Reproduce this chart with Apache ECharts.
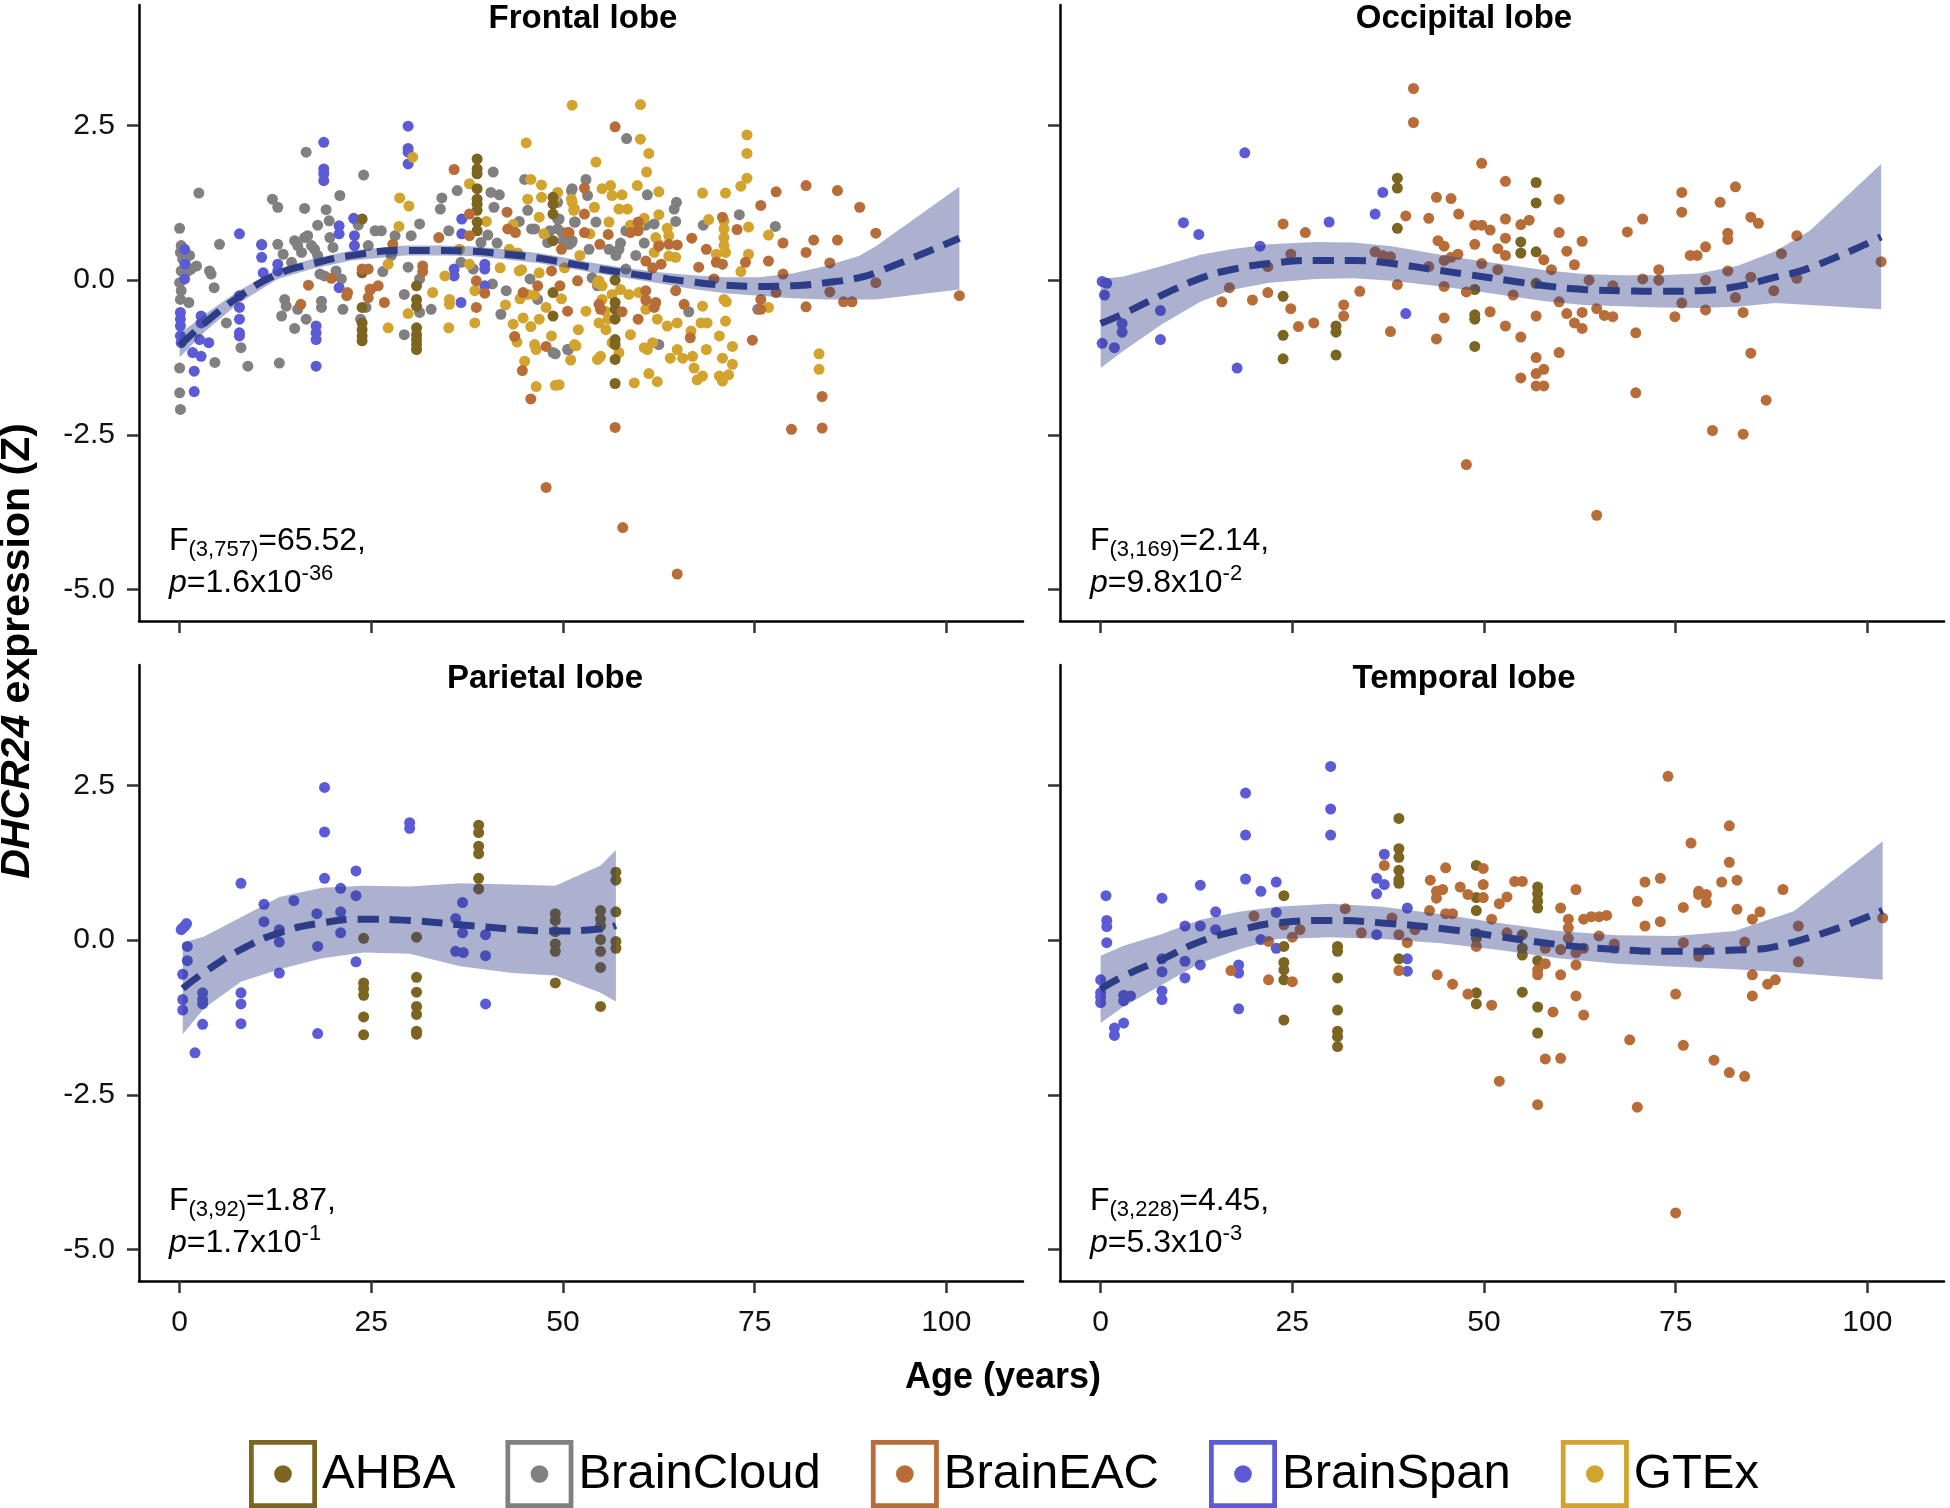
<!DOCTYPE html>
<html><head><meta charset="utf-8">
<script src="https://cdn.jsdelivr.net/npm/echarts@6.0.0/dist/echarts.min.js"></script>
<style>html,body{margin:0;padding:0;background:#fff;}#chart{width:1950px;height:1508px;}</style>
</head><body><div id="chart"></div>
<script>
// ---------- categories / ticks ----------
const datasets = ['AHBA', 'BrainCloud', 'BrainEAC', 'BrainSpan', 'GTEx'];
const panelTitles = ['Frontal lobe', 'Occipital lobe', 'Parietal lobe', 'Temporal lobe'];
const xTicks = [0, 25, 50, 75, 100];
const yTicks = [-5, -2.5, 0, 2.5];
const statDf = ['(3,757)', '(3,169)', '(3,92)', '(3,228)'];
const statF = ['=65.52,', '=2.14,', '=1.87,', '=4.45,'];
const statPBase = ['=1.6x10', '=9.8x10', '=1.7x10', '=5.3x10'];
const statPExp = ['-36', '-2', '-1', '-3'];

// ---------- Frontal lobe ----------
const frontalBrainCloud = [[2.5,1.41],[0,0.84],[0.2,0.56],[0.1,0.45],[0.4,0.34],[0.7,0.29],[0.2,0.15],[1.3,0.40],[1.5,0.18],[1.1,0.15],[0,-0.04],[0.2,-0.17],[0.1,-0.31],[1.2,-0.36],[0,-1.42],[0,-1.82],[0.1,-2.09],[2.2,0.23],[5.2,0.58],[3.9,0.15],[4.1,0.1],[4.5,-0.12],[6.1,-0.69],[4.6,-1.33],[8.0,-1.09],[8.9,-1.39],[12.1,1.31],[12.8,1.18],[10.7,0.58],[12.8,0.58],[13.5,0.42],[14.6,0.29],[15.0,0.64],[15.4,0.56],[15.9,0.45],[16.3,0.69],[16.7,0.72],[17.2,0.56],[17.6,0.5],[18.0,0.4],[16.3,1.16],[16.5,2.07],[19.1,1.14],[19.5,0.96],[18.0,0.89],[20.9,1.37],[24.0,1.7],[13.7,-0.31],[13.9,-0.42],[13.3,-0.58],[15.0,-0.78],[15.4,-0.47],[16.5,-0.63],[18.5,-0.34],[18.5,-0.44],[18.3,0.10],[18.9,0.07],[20.4,0.15],[21.1,0.02],[21.3,-0.47],[13.0,-1.34],[20.0,0.53],[19.6,0.69],[23.3,0.89],[23.1,0.96],[23.6,-0.63],[24.3,-0.44],[24.6,0.56],[25.5,0.8],[26.3,0.8],[26.5,0.14],[27.6,0.4],[28.1,0.72],[29.3,-0.88],[29.3,-0.23],[29.8,0.21],[30.2,0.72],[31.3,0.91],[31.3,0.02],[31.3,-0.52],[32.8,-0.47],[34.0,1.15],[34.2,1.33],[36.2,1.45],[35.1,0.80],[36.7,0.29],[38.3,0.18],[39.3,0.61],[40.2,0.73],[40.9,1.75],[40.6,1.42],[41.7,1.38],[41.0,1.18],[41.4,0.60],[40.8,-0.06],[42.6,-0.17],[41.9,-0.55],[44.3,0.95],[45.0,1.63],[45.4,1.13],[45.9,0.83],[46.3,0.83],[45.7,0.02],[46.7,-0.31],[48.7,-1.17],[50.7,-1.12],[49.3,1.26],[49.3,0.99],[51.1,1.45],[51.1,0.61],[51.5,0.94],[49.3,0.83],[48.3,0.8],[48.0,0.61],[50.0,0.64],[53.0,1.63],[58.3,2.29],[51.2,1.48],[53.2,1.37],[61.0,1.38],[64.8,1.26],[64.5,1.15],[64.7,0.95],[73.0,1.06],[68.3,0.89],[77.7,0.87],[49.5,0.99],[51.6,0.94],[49.9,0.77],[54.3,0.94],[58.2,0.8],[57.5,0.6],[57.3,0.5],[56.9,0.4],[60.8,0.89],[61.9,0.91],[60.6,0.6],[51.2,0.64],[50.8,0.58],[53.4,0.5],[53.8,0.04],[66.4,-0.51],[62.5,-1.04],[50.6,-1.12],[75.4,-0.47],[58.2,0.18],[59.5,0.4],[56.0,0.5],[54.5,-0.09],[49.0,-1.19]];
const frontalBrainSpan = [[0.1,-0.52],[0.1,-0.63],[0.1,-0.74],[0.1,-0.90],[0.2,-1.01],[0.65,0.5],[0.7,0.26],[0.65,0.02],[1.7,-1.17],[1.9,-1.47],[1.9,-1.8],[2.8,-0.58],[2.8,-0.69],[2.6,-0.96],[3.8,-1.01],[2.8,-1.23],[7.8,0.75],[7.8,-0.25],[7.8,-0.44],[7.8,-0.63],[7.8,-0.85],[7.8,-0.9],[10.7,0.57],[10.7,0.37],[10.9,0.12],[12.8,0.26],[12.8,0.15],[18.8,2.23],[18.8,1.8],[18.8,1.72],[18.8,1.61],[17.8,-0.74],[17.8,-0.85],[17.8,-0.96],[17.8,-1.39],[20.8,0.88],[20.8,0.75],[20.8,-0.12],[22.7,1.0],[22.8,0.72],[22.8,0.56],[29.8,2.49],[29.8,2.13],[29.8,2.07],[29.8,1.88],[36.8,0.99],[36.8,0.75],[35.8,0.18],[35.8,0.07],[36.7,-0.36],[39.8,0.26],[39.8,0.18],[39.8,-0.09]];
const frontalAHBA = [[23.8,0.99],[23.8,0.12],[23.8,-0.44],[23.8,-0.69],[23.8,-0.8],[23.8,-0.9],[23.8,-0.98],[30.9,-0.09],[30.9,-0.31],[30.9,-0.42],[30.9,-0.77],[30.9,-0.88],[30.9,-0.96],[30.9,-1.04],[30.9,-1.12],[38.8,1.96],[38.8,1.8],[38.8,1.72],[38.8,1.48],[38.8,1.31],[38.8,1.23],[38.8,1.13],[38.8,0.94],[38.8,0.8],[48.7,1.34],[48.7,1.23],[48.7,1.07],[48.7,0.64],[48.7,-0.2],[48.7,-0.58],[56.8,0.0],[56.8,-0.36],[56.8,-0.47],[56.8,-0.63],[56.8,-0.96],[56.8,-1.04],[56.8,-1.28],[56.8,-1.67]];
const frontalBrainEAC = [[35.8,1.79],[37.8,1.07],[37.8,0.72],[42.7,1.10],[42.8,0.83],[43.8,0.77],[33.8,0.69],[31.7,0.23],[31.7,0.14],[27.8,0.58],[26.7,-0.36],[25.9,-0.09],[24.9,-0.15],[24.6,-0.28],[23.8,0.18],[24.6,0.18],[21.9,-0.20],[21.8,-0.25],[19.8,0.03],[16.8,-0.08],[15.8,-0.39],[38.7,-0.01],[39.8,-0.21],[38.7,-0.44],[43.7,-0.91],[44.7,-1.46],[45.8,-1.92],[47.8,-1.07],[44.8,-0.2],[46.7,-0.09],[49.6,-0.09],[50.6,-0.5],[50.6,0.77],[49.8,0.5],[48.5,0.15],[56.8,2.48],[56.8,-2.38],[79.8,-2.41],[83.8,-2.39],[83.8,-1.88],[77.8,1.43],[81.7,1.53],[85.8,1.45],[88.7,1.18],[75.8,1.21],[90.8,0.76],[82.7,0.65],[85.8,0.65],[81.7,0.45],[84.8,0.28],[78.7,0.6],[76.8,0.31],[78.7,0.1],[90.8,-0.04],[84.8,-0.19],[86.6,-0.35],[87.7,-0.35],[81.7,-0.43],[75.8,-0.31],[75.8,-0.47],[77.8,-0.2],[101.7,-0.25],[74.7,-0.97],[66.8,0.68],[70.8,1.02],[68.7,0.5],[72.7,0.82],[70.0,0.29],[70.8,0.26],[73.8,0.29],[67.7,0.21],[69.7,0.02],[64.7,-0.17],[65.8,-0.39],[62.1,-0.36],[61.9,-0.44],[66.6,-0.93],[59.8,-0.63],[57.7,-0.51],[54.9,-0.47],[54.7,-0.39],[59.8,0.94],[59.8,0.8],[58.8,0.77],[52.8,1.07],[52.8,0.77],[52.8,1.49],[50.8,0.77],[51.9,-0.01],[54.8,0.58],[55.9,0.74],[60.8,0.31],[62.5,0.55],[63.8,0.58],[64.9,0.57],[60.8,-0.17],[60.8,-0.32],[61.7,0.2],[62.8,0.26],[47.8,-3.35],[57.8,-4.0],[64.9,-4.75]];
const frontalGTEx = [[51.2,2.83],[45.2,2.22],[30.4,1.99],[28.7,1.33],[29.9,1.2],[28.6,0.87],[27.2,0.26],[24.8,-0.14],[27.2,-0.77],[29.8,-0.54],[34.6,0.07],[35.2,-0.31],[35.2,-0.39],[35.1,-0.77],[37.8,1.56],[37.8,0.26],[38.5,-0.17],[38.5,-0.69],[45.8,1.63],[47.2,1.54],[47.2,1.34],[45.4,1.31],[46.9,1.02],[44.3,0.15],[44.4,-0.3],[45.4,-0.23],[46.9,0.12],[46.3,-0.24],[47.8,-0.44],[44.8,-0.61],[43.5,-0.71],[45.8,-0.75],[46.9,-0.63],[46.3,-1.04],[46.5,-1.12],[45.0,-1.31],[49.0,-1.7],[51.0,-1.29],[49.3,1.42],[48.9,1.31],[51.1,1.31],[51.5,1.15],[51.5,-1.04],[60.1,2.84],[60.1,2.28],[61.2,2.05],[60.9,1.75],[74.0,2.35],[74.0,2.05],[74.0,1.65],[73.2,1.52],[54.3,1.91],[59.7,1.53],[62.5,1.43],[68.2,1.41],[71.2,1.41],[55.1,1.48],[56.2,1.53],[57.7,1.38],[56.4,1.37],[54.1,1.18],[57.3,1.15],[58.4,1.15],[51.2,1.26],[51.4,1.13],[62.5,1.06],[56.0,0.94],[58.8,0.89],[60.6,1.0],[59.9,0.88],[63.6,0.84],[63.8,0.72],[62.1,0.69],[62.5,0.58],[61.9,0.45],[63.8,0.39],[64.7,0.37],[69.0,0.98],[71.0,0.96],[71.0,0.83],[71.0,0.69],[71.0,0.56],[71.2,0.45],[70.0,0.42],[74.2,0.86],[74.2,0.42],[73.2,0.14],[76.8,0.73],[76.8,-0.44],[54.7,-0.01],[54.5,-0.04],[55.1,-0.09],[56.4,-0.23],[57.5,-0.15],[58.6,-0.23],[59.9,-0.2],[55.1,-0.31],[55.5,-0.5],[55.9,-0.63],[60.8,-0.47],[62.3,-0.63],[63.6,-0.74],[64.9,-0.69],[68.2,-0.42],[68.0,-0.69],[68.8,-0.69],[71.2,-0.66],[58.8,-0.88],[60.6,-1.09],[61.7,-1.01],[61.0,-1.12],[54.7,-0.69],[56.4,-1.01],[57.3,-1.17],[54.9,-1.23],[54.5,-1.28],[51.7,-1.06],[55.6,-0.8],[64.0,-1.26],[64.9,-1.12],[65.6,-1.26],[66.9,-1.23],[67.1,-1.42],[68.2,-1.55],[67.5,-1.61],[68.7,-1.12],[66.7,-0.82],[70.4,-0.9],[70.4,-1.55],[70.8,-1.63],[71.6,-1.53],[70.8,-1.26],[72.1,-1.07],[72.1,-1.36],[59.3,-1.66],[61.2,-1.51],[62.3,-1.64],[83.4,-1.19],[83.4,-1.44],[49.5,-1.69],[71.3,-0.35],[71.0,-0.31],[43.0,0.5],[43.5,0.9],[42.5,-0.4],[41.8,0.2],[44.0,-1.0],[47.5,0.75],[48.5,-0.9],[49.8,-0.3],[50.2,0.2],[52.2,0.4],[53.0,-0.5],[53.5,0.75],[52.0,-0.8],[36.5,0.5],[40.0,0.95],[33.0,-0.2],[44.1,0.44],[44.6,0.17],[46.5,-1.72]];
const frontalFitAge = [0, 3.3, 7.6, 12.8, 17.2, 22.4, 29.3, 33.7, 38, 42.4, 46.7, 50, 54, 58, 62.5, 66.9, 71.2, 75.6, 79.9, 84.3, 88.6, 90.8, 101.7];
const frontalFit   = [-1.06,-0.69,-0.28,0.10,0.26,0.40,0.48,0.48,0.47,0.42,0.36,0.29,0.20,0.12,0.04,-0.03,-0.08,-0.10,-0.09,-0.04,0.04,0.12,0.68];
const frontalLower = [-1.25,-0.83,-0.38,0.02,0.18,0.32,0.40,0.40,0.39,0.34,0.28,0.21,0.12,0.04,-0.05,-0.14,-0.21,-0.25,-0.29,-0.31,-0.31,-0.31,-0.15];
const frontalUpper = [-0.87,-0.55,-0.18,0.18,0.34,0.48,0.56,0.56,0.55,0.50,0.44,0.37,0.28,0.20,0.13,0.08,0.05,0.05,0.11,0.23,0.39,0.55,1.51];

// ---------- Occipital lobe ----------
const occipitalBrainSpan = [[0.2,-0.02],[0.8,-0.05],[0.5,-0.24],[2.8,-0.70],[2.8,-0.84],[0.2,-1.02],[1.8,-1.09],[7.8,-0.49],[7.8,-0.96],[10.8,0.93],[12.8,0.74],[17.8,-1.42],[18.8,2.06],[20.8,0.55],[29.8,0.94],[35.8,1.07],[36.8,1.42],[39.8,-0.54]];
const occipitalAHBA = [[23.8,-0.26],[23.8,-0.89],[23.8,-1.27],[30.7,-0.74],[30.7,-0.84],[30.7,-1.21],[38.7,1.65],[38.7,1.49],[38.7,0.84],[48.8,-0.15],[48.8,-0.56],[48.8,-0.63],[48.8,-1.07],[56.8,1.58],[56.8,1.25],[54.8,0.62],[56.8,0.46],[54.8,0.44],[56.8,-0.05]];
const occipitalBrainEAC = [[40.8,3.1],[40.8,2.55],[49.7,1.89],[52.8,1.6],[59.8,1.31],[43.8,1.34],[45.7,1.32],[39.8,1.04],[42.8,1.0],[46.7,1.07],[48.8,0.89],[49.7,0.89],[50.8,0.81],[52.8,0.99],[54.8,0.9],[55.9,0.97],[23.8,0.91],[26.7,0.77],[24.8,0.42],[21.8,0.22],[16.8,-0.12],[15.8,-0.35],[19.8,-0.32],[21.8,-0.2],[24.8,-0.46],[25.8,-0.75],[27.8,-0.69],[31.7,-0.4],[31.7,-0.58],[33.8,-0.18],[35.8,0.46],[37.8,0.38],[36.8,0.4],[37.8,-0.83],[38.7,-0.07],[44.0,0.64],[44.8,0.55],[45.7,0.37],[46.6,0.42],[44.8,0.32],[42.8,0.22],[44.8,-0.1],[44.8,-0.61],[43.8,-0.95],[47.7,-0.19],[48.8,0.58],[49.7,0.27],[50.8,-0.51],[51.8,0.51],[51.8,0.17],[52.8,0.68],[52.8,0.4],[52.8,-0.74],[53.8,-0.24],[54.8,-0.92],[54.8,-1.58],[56.8,-0.58],[56.8,-1.25],[56.8,-1.51],[57.8,-1.44],[56.8,-1.71],[57.8,-1.71],[57.8,0.33],[58.8,0.17],[59.8,0.77],[59.8,-0.35],[59.8,-1.17],[60.8,0.47],[60.8,-0.54],[61.8,0.25],[61.8,-0.69],[62.8,0.63],[62.8,-0.52],[62.8,-0.78],[63.7,0.0],[64.7,-0.46],[64.7,-3.8],[65.7,-0.57],[66.8,-0.59],[66.8,-0.09],[47.7,-2.98],[68.7,0.78],[69.8,-0.85],[69.8,-1.82],[70.7,0.99],[70.7,0.02],[72.8,0.17],[72.8,0.0],[74.9,-0.59],[75.8,1.42],[75.8,1.1],[75.8,-0.37],[76.9,0.4],[77.8,0.4],[78.9,0.54],[78.9,0.0],[78.9,-0.48],[79.8,-2.43],[80.8,1.26],[81.8,0.76],[81.8,0.66],[81.8,0.15],[82.8,1.51],[82.8,-0.28],[83.8,-0.52],[83.8,-2.49],[84.8,1.02],[85.8,0.92],[84.8,0.05],[84.8,-1.18],[86.8,-1.94],[87.8,-0.17],[88.8,0.43],[90.8,0.72],[90.8,0.03],[101.8,0.3]];
const occipitalFitAge = [0, 3, 8, 13, 17, 22, 28, 33, 38, 43, 48, 53, 58, 63, 68, 73, 78, 83, 88, 92.5, 101.8];
const occipitalFit   = [-0.70,-0.54,-0.24,0.03,0.17,0.27,0.32,0.32,0.27,0.18,0.09,0.0,-0.09,-0.15,-0.17,-0.18,-0.17,-0.10,0.05,0.20,0.70];
const occipitalLower = [-1.42,-1.14,-0.71,-0.35,-0.16,-0.04,0.02,0.03,-0.01,-0.08,-0.16,-0.25,-0.34,-0.40,-0.42,-0.44,-0.45,-0.43,-0.37,-0.40,-0.47];
const occipitalUpper = [0.02,0.06,0.23,0.41,0.50,0.58,0.62,0.61,0.55,0.44,0.34,0.25,0.16,0.10,0.08,0.08,0.11,0.23,0.47,0.80,1.88];

// ---------- Parietal lobe ----------
const parietalBrainSpan = [[0.2,0.17],[0.7,0.23],[0.9,0.27],[0.4,0.2],[1.0,-0.1],[1.0,-0.33],[0.4,-0.55],[0.4,-0.96],[0.4,-1.13],[2.0,-1.82],[3.0,-0.85],[3.0,-0.96],[3.0,-1.03],[3.0,-1.36],[8.0,0.92],[8.0,-0.85],[8.0,-1.03],[8.0,-1.35],[11.0,0.58],[11.0,0.3],[13.0,0.17],[13.0,-0.03],[13.0,-0.53],[14.9,0.64],[17.9,0.43],[18.0,-0.1],[18.0,-1.51],[18.9,2.47],[18.9,1.75],[18.9,1.0],[21.0,0.84],[21.0,0.46],[21.0,0.12],[23.0,1.12],[23.0,0.72],[23.0,-0.35],[30.0,1.9],[30.0,1.81],[36.0,0.35],[36.0,-0.18],[37.0,-0.2],[36.9,0.61],[36.9,0.12],[39.9,0.09],[39.9,-0.25],[39.9,-1.03]];
const parietalAHBA = [[24.0,0.03],[24.0,-0.69],[24.0,-0.78],[24.0,-0.89],[24.0,-1.24],[24.0,-1.53],[30.9,0.05],[30.9,-0.6],[30.9,-0.84],[30.9,-1.07],[30.9,-1.2],[30.9,-1.47],[30.9,-1.52],[39.0,1.86],[39.0,1.74],[39.0,1.52],[39.0,1.4],[39.0,1.0],[39.0,0.83],[49.0,0.43],[49.0,0.32],[49.0,0.14],[49.0,-0.06],[49.0,-0.18],[49.0,-0.69],[54.9,0.48],[54.9,0.34],[54.9,0.23],[54.9,0.01],[54.9,-0.18],[54.9,-0.44],[54.9,-1.07],[56.9,1.1],[56.9,0.97],[56.9,0.46],[56.9,-0.02],[56.9,-0.13]];
const parietalFitAge = [0.4, 3.2, 8, 13, 18.6, 24, 30, 36.6, 43.4, 49, 54.9, 56.9];
const parietalFit   = [-0.78,-0.52,-0.15,0.12,0.28,0.34,0.32,0.25,0.18,0.15,0.18,0.24];
const parietalLower = [-1.52,-1.10,-0.67,-0.47,-0.29,-0.20,-0.22,-0.42,-0.53,-0.57,-0.85,-0.99];
const parietalUpper = [-0.04,0.06,0.37,0.70,0.85,0.88,0.87,0.92,0.90,0.88,1.21,1.46];

// ---------- Temporal lobe ----------
const temporalBrainSpan = [[0,-0.64],[0,-0.85],[0,-0.92],[0,-1.01],[0.7,0.72],[0.8,0.32],[0.8,0.22],[0.8,-0.04],[1.8,-1.42],[1.8,-1.54],[3,-0.89],[3,-0.98],[3,-1.34],[3.9,-0.9],[8,0.68],[8,-0.3],[8,-0.51],[8,-0.82],[8,-0.96],[11,0.23],[11,-0.34],[11,-0.61],[13,0.89],[13,0.23],[13,-0.4],[15,0.46],[15,0.17],[18,-0.4],[18,-0.53],[18,-1.11],[18.9,2.38],[18.9,1.7],[18.9,0.99],[20.9,0.79],[20.9,0.01],[22.9,0.94],[22.9,0.45],[22.9,-0.13],[30,2.81],[30,2.12],[30,1.7],[36,1.0],[36,0.75],[37,1.39],[37,0.9],[36,0.09],[40,0.52],[40,-0.3],[40,-0.5]];
const temporalAHBA = [[23.9,0.72],[23.9,-0.1],[23.9,-0.36],[23.9,-0.48],[23.9,-0.64],[23.9,-1.29],[30.9,-0.1],[30.9,-0.18],[30.9,-0.61],[30.9,-1.13],[30.9,-1.47],[30.9,-1.56],[30.9,-1.72],[38.9,1.97],[38.9,1.48],[38.9,1.34],[38.9,1.13],[38.9,0.98],[38.9,0.92],[38.9,-0.3],[49,1.21],[49,0.69],[49,0.48],[49,0.11],[49,0.03],[49,-0.85],[49,-1.03],[57,0.86],[57,0.75],[57,0.63],[57,0.52],[55,0.09],[55,-0.13],[55,-0.24],[55,-0.84],[57,-0.33],[57,-1.08],[57,-1.5]];
const temporalBrainEAC = [[74,2.65],[82,1.85],[77,1.57],[82,1.26],[43,0.97],[45,1.17],[44.6,0.82],[43.8,0.79],[43.8,0.68],[46.9,0.86],[47.9,0.74],[49.9,1.16],[49.9,0.9],[49.9,0.69],[52,0.59],[53,0.7],[54,0.95],[55,0.95],[42.9,0.48],[45,0.43],[45.9,0.43],[37,1.21],[31.9,0.51],[34,0.12],[38,0.36],[38.9,0.09],[40,-0.04],[41,0.17],[26,0.17],[25,0.05],[23.9,0.25],[21.9,-0.02],[20,0.39],[17,-0.49],[21.9,-0.64],[25,-0.67],[38.9,-0.49],[43.9,-0.56],[45.9,-0.71],[47.9,-0.87],[51,-1.05],[52,-2.28],[51,0.34],[53,0.12],[49,-0.1],[57,-0.48],[57,-0.56],[58,-0.13],[58,-0.38],[58,-1.92],[57,-2.66],[59,-1.16],[60,0.52],[60,-0.15],[60,-0.56],[60,-1.91],[61,0.34],[61,0.2],[61,0.03],[62,0.82],[62,-0.2],[62,-0.4],[62,-0.9],[63,0.34],[63,-0.13],[63,-1.21],[64,0.38],[65,0.38],[66,0.4],[65,0.07],[67,-0.06],[67,-0.13],[69,-1.61],[70,0.63],[70,-2.7],[71,0.94],[71,0.23],[73,1.0],[73,0.3],[75,-0.87],[75,-4.41],[76,0.53],[76,-0.04],[76,-1.7],[78,0.79],[78,0.74],[78,-0.26],[79,0.74],[79,0.61],[79,-0.15],[80,-1.94],[81,0.94],[82,-2.14],[83,0.97],[83,0.5],[84,-0.03],[84,-2.2],[85,0.34],[85,-0.56],[85,-0.9],[86,0.46],[87,-0.71],[88,-0.64],[89,0.82],[91,0.23],[91,-0.35],[102,0.36]];
const temporalFitAge = [0, 3, 8, 13, 18, 23, 30, 36.7, 44.4, 52, 59.7, 67.4, 75, 82.7, 90.4, 102];
const temporalFit   = [-0.79,-0.58,-0.31,-0.02,0.16,0.28,0.32,0.28,0.19,0.06,-0.07,-0.15,-0.18,-0.16,-0.03,0.48];
const temporalLower = [-1.34,-1.07,-0.72,-0.37,-0.15,0.02,0.05,0.02,-0.05,-0.16,-0.29,-0.38,-0.43,-0.47,-0.53,-0.64];
const temporalUpper = [-0.25,-0.09,0.10,0.33,0.46,0.54,0.59,0.54,0.42,0.28,0.15,0.08,0.07,0.15,0.47,1.60];

// ---------- assembly ----------
const FF = 'Liberation Sans, Arial, Helvetica, sans-serif';
const COLORS = { AHBA: '#7c6421', BrainCloud: '#808080', BrainEAC: '#b86d38', BrainSpan: '#5b5bd6', GTEx: '#d2a32d' };
const DRAW_ORDER = ['BrainCloud', 'BrainSpan', 'GTEx', 'AHBA', 'BrainEAC'];
const LINE_COLOR = '#2c3c87';
const RIBBON_FILL = 'rgba(44,60,135,0.4)';

const panels = [
  { points: { BrainCloud: frontalBrainCloud, BrainSpan: frontalBrainSpan, GTEx: frontalGTEx, AHBA: frontalAHBA, BrainEAC: frontalBrainEAC },
    ages: frontalFitAge, fit: frontalFit, lo: frontalLower, up: frontalUpper },
  { points: { BrainSpan: occipitalBrainSpan, AHBA: occipitalAHBA, BrainEAC: occipitalBrainEAC },
    ages: occipitalFitAge, fit: occipitalFit, lo: occipitalLower, up: occipitalUpper },
  { points: { BrainSpan: parietalBrainSpan, AHBA: parietalAHBA },
    ages: parietalFitAge, fit: parietalFit, lo: parietalLower, up: parietalUpper },
  { points: { BrainSpan: temporalBrainSpan, AHBA: temporalAHBA, BrainEAC: temporalBrainEAC },
    ages: temporalFitAge, fit: temporalFit, lo: temporalLower, up: temporalUpper }
];

const GRID_POS = [
  { left: 139, top: 5, width: 884, height: 616 },
  { left: 1060, top: 5, width: 884, height: 616 },
  { left: 139, top: 665, width: 884, height: 616 },
  { left: 1060, top: 665, width: 884, height: 616 }
];
const TITLE_X = [583, 1464, 545, 1464];

const grids = [], xAxes = [], yAxes = [], series = [], graphics = [];
GRID_POS.forEach((g, i) => {
  grids.push(Object.assign({ containLabel: false, outerBoundsMode: 'none' }, g));
  xAxes.push({
    type: 'value', gridIndex: i, min: -5.3, max: 110,
    axisLine: { show: true, onZero: false, lineStyle: { color: '#000', width: 2.5 } },
    axisTick: { show: true, length: 12, customValues: xTicks, lineStyle: { color: '#333', width: 2.5 } },
    axisLabel: { show: i >= 2, customValues: xTicks, fontSize: 30, color: '#111', margin: 27, fontFamily: FF },
    splitLine: { show: false }
  });
  yAxes.push({
    type: 'value', gridIndex: i, min: -5.51, max: 4.45,
    axisLine: { show: true, onZero: false, lineStyle: { color: '#000', width: 2.5 } },
    axisTick: { show: true, length: 12, customValues: yTicks, lineStyle: { color: '#333', width: 2.5 } },
    axisLabel: { show: i % 2 === 0, customValues: yTicks, fontSize: 30, color: '#111', margin: 24, fontFamily: FF,
      formatter: v => Number(v).toFixed(1) },
    splitLine: { show: false }
  });
});

function makeRibbon(ages, lo, up) {
  return function (params, api) {
    if (params.dataIndex !== 0) return null;
    const pts = [];
    for (let k = 0; k < ages.length; k++) pts.push(api.coord([ages[k], up[k]]));
    for (let k = ages.length - 1; k >= 0; k--) pts.push(api.coord([ages[k], lo[k]]));
    return { type: 'polygon', shape: { points: pts }, style: { fill: RIBBON_FILL } };
  };
}

panels.forEach((p, i) => {
  DRAW_ORDER.forEach(name => {
    if (!p.points[name]) return;
    series.push({
      type: 'scatter', name: name, xAxisIndex: i, yAxisIndex: i,
      data: p.points[name], symbol: 'circle', symbolSize: 11,
      itemStyle: { color: COLORS[name], opacity: 1 }, z: 2, silent: true
    });
  });
  series.push({
    type: 'custom', xAxisIndex: i, yAxisIndex: i, z: 3, silent: true,
    data: p.ages.map((a, k) => [a, p.lo[k], p.up[k]]),
    encode: { x: 0, y: [1, 2] },
    renderItem: makeRibbon(p.ages, p.lo, p.up)
  });
  series.push({
    type: 'line', xAxisIndex: i, yAxisIndex: i, z: 4, silent: true,
    data: p.ages.map((a, k) => [a, p.fit[k]]),
    smooth: true, symbol: 'none', showSymbol: false,
    lineStyle: { color: LINE_COLOR, width: 7, type: [21, 11], cap: 'butt' }
  });

  const g = GRID_POS[i];
  graphics.push({
    type: 'text', x: TITLE_X[i], y: g.top + 14, z: 10,
    style: { text: panelTitles[i], fill: '#000', fontSize: 33, fontWeight: 'bold', fontFamily: FF,
      align: 'center', verticalAlign: 'middle', textAlign: 'center', textVerticalAlign: 'middle' }
  });
  const baseRich = {
    f: { fontSize: 32, lineHeight: 40, fontFamily: FF, fill: '#000' },
    it: { fontSize: 32, lineHeight: 40, fontFamily: FF, fontStyle: 'italic', fill: '#000' },
    sub: { fontSize: 22, lineHeight: 20, fontFamily: FF, fill: '#000', verticalAlign: 'bottom' },
    sup: { fontSize: 22, lineHeight: 20, fontFamily: FF, fill: '#000', verticalAlign: 'top' }
  };
  graphics.push({
    type: 'text', x: g.left + 30, y: g.top + 536, z: 10,
    style: { text: '{f|F}{sub|' + statDf[i] + '}{f|' + statF[i] + '}', rich: baseRich, fill: '#000',
      fontSize: 32, fontFamily: FF, align: 'left', verticalAlign: 'middle', textAlign: 'left', textVerticalAlign: 'middle' }
  });
  graphics.push({
    type: 'text', x: g.left + 30, y: g.top + 578, z: 10,
    style: { text: '{it|p}{f|' + statPBase[i] + '}{sup|' + statPExp[i] + '}', rich: baseRich, fill: '#000',
      fontSize: 32, fontFamily: FF, align: 'left', verticalAlign: 'middle', textAlign: 'left', textVerticalAlign: 'middle' }
  });
});

graphics.push({
  type: 'text', x: 1003, y: 1378, z: 10,
  style: { text: 'Age (years)', fill: '#000', fontSize: 36, fontWeight: 'bold', fontFamily: FF,
    align: 'center', verticalAlign: 'middle', textAlign: 'center', textVerticalAlign: 'middle' }
});
graphics.push({
  type: 'text', x: 18, y: 651, rotation: Math.PI / 2, z: 10,
  style: { text: '{it|DHCR24}{b| expression (Z)}', fill: '#000', fontSize: 41, fontWeight: 'bold', fontFamily: FF,
    rich: {
      it: { fontSize: 41, fontWeight: 'bold', fontStyle: 'italic', fontFamily: FF, fill: '#000' },
      b: { fontSize: 41, fontWeight: 'bold', fontFamily: FF, fill: '#000' }
    },
    align: 'center', verticalAlign: 'middle', textAlign: 'center', textVerticalAlign: 'middle' }
});

const LEGEND_ICON = 'path://M0,0 L100,0 L100,100 L0,100 Z M7,7 L7,93 L93,93 L93,7 Z M37,50 A13,13 0 1,0 63,50 A13,13 0 1,0 37,50 Z';

const chart = echarts.init(document.getElementById('chart'), null, { renderer: 'canvas', width: 1950, height: 1508 });
chart.setOption({
  animation: false,
  backgroundColor: '#ffffff',
  textStyle: { fontFamily: FF },
  grid: grids,
  xAxis: xAxes,
  yAxis: yAxes,
  legend: {
    data: datasets, left: 249, top: 1440, padding: 0, orient: 'horizontal',
    itemWidth: 68, itemHeight: 68, itemGap: 50, icon: LEGEND_ICON, selectedMode: false,
    textStyle: { fontSize: 49, color: '#000', fontFamily: FF }
  },
  series: series,
  graphic: graphics
});
</script></body></html>
